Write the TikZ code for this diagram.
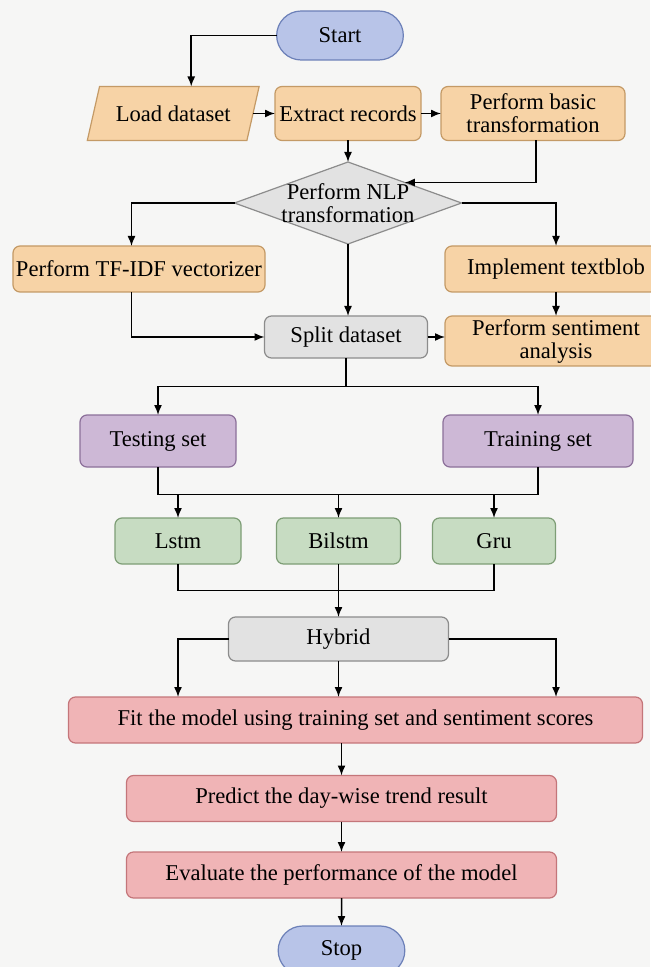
\documentclass[tikz,border=0pt]{standalone}
\usepackage{fontspec}
\setmainfont{Liberation Serif}
\usepackage{tikz}
\usetikzlibrary{arrows.meta,positioning,shapes.geometric,shapes.misc}
\definecolor{termfill}{RGB}{184,196,232}
\definecolor{termline}{RGB}{108,128,184}
\definecolor{prepfill}{RGB}{247,211,166}
\definecolor{prepline}{RGB}{196,154,102}
\definecolor{greyfill}{RGB}{226,226,226}
\definecolor{greyline}{RGB}{140,140,140}
\definecolor{setfill}{RGB}{205,184,214}
\definecolor{setline}{RGB}{140,112,154}
\definecolor{modelfill}{RGB}{199,220,194}
\definecolor{modelline}{RGB}{126,158,118}
\definecolor{evalfill}{RGB}{240,180,182}
\definecolor{evalline}{RGB}{196,118,122}
\definecolor{pagebg}{RGB}{246,246,245}
\tikzstyle{terminal}=[rounded rectangle,draw=termline,fill=termfill,line width=0.6pt,outer sep=0pt,
                     minimum width=70pt,minimum height=24.5pt]
\tikzstyle{iobox}=[trapezium,trapezium left angle=70,trapezium right angle=110,trapezium stretches=true,
                   draw=prepline,fill=prepfill,line width=0.6pt,outer sep=0pt,minimum width=86.5pt,minimum height=27pt]
\tikzstyle{decision}=[diamond,draw=greyline,fill=greyfill,line width=0.6pt,inner sep=0pt,outer sep=0pt,
                      minimum width=113.5pt,minimum height=41pt]
\tikzstyle{stepbox}=[rectangle,rounded corners=3.5pt,line width=0.6pt,align=center,outer sep=0pt,
                     inner xsep=1.5pt,inner ysep=1.5pt]
\tikzstyle{prep}=[stepbox,draw=prepline,fill=prepfill]
\tikzstyle{greybox}=[stepbox,draw=greyline,fill=greyfill]
\tikzstyle{setbox}=[stepbox,draw=setline,fill=setfill,minimum height=26pt]
\tikzstyle{modelbox}=[stepbox,draw=modelline,fill=modelfill,minimum height=23pt]
\tikzstyle{evalbox}=[stepbox,draw=evalline,fill=evalfill,minimum height=23pt]
\tikzstyle{arrow}=[-{Latex[length=5pt,width=4pt]},line width=0.75pt]
\tikzstyle{link}=[line width=0.75pt]

\begin{document}
\begin{tikzpicture}[font=\fontsize{11.3}{11.5}\selectfont]
      \fill[pagebg] (0,0) rectangle (325pt,-483.5pt);
      \useasboundingbox (0,0) rectangle (325pt,-483.5pt);

      \node[terminal] (start) at (170pt,-17.75pt) {Start};
      \node[prep,below=13.25pt of start,xshift=4pt,minimum width=73pt,minimum height=27pt] (extract) {Extract records};
      \node[iobox,left=11pt of extract] (load) {Load dataset};
      \node[prep,right=10pt of extract,minimum width=92pt,minimum height=27pt] (basic) {Perform basic\\transformation};
      \node[decision,below=10.75pt of extract] (nlp) {};
      \node[align=center] (nlptext) at (nlp) {Perform NLP\\transformation};
      \node[prep,below=1pt of nlp,xshift=-104.5pt,minimum width=125pt,minimum height=23pt] (tfidf) {Perform TF-IDF vectorizer};
      \node[prep,below=1pt of nlp,xshift=104pt,minimum width=111pt,minimum height=23pt] (textblob) {Implement textblob};
      \node[greybox,below=36pt of nlp,xshift=-1pt,minimum width=81.5pt,minimum height=21pt] (split) {Split dataset};
      \node[prep,below=12pt of textblob,minimum width=111pt,minimum height=25pt] (sentiment) {Perform sentiment\\analysis};
      \node[setbox,below=28.5pt of split,xshift=-94pt,minimum width=78pt] (testing) {Testing set};
      \node[setbox,right=103.5pt of testing,minimum width=95pt] (training) {Training set};
      \node[modelbox,below=25.5pt of testing,xshift=10pt,minimum width=63pt] (lstm) {Lstm};
      \node[modelbox,right=17.75pt of lstm,minimum width=62pt] (bilstm) {Bilstm};
      \node[modelbox,right=16pt of bilstm,minimum width=61.5pt] (gru) {Gru};
      \node[greybox,below=26.5pt of bilstm,minimum width=110pt,minimum height=22pt] (hybrid) {Hybrid};
      \node[evalbox,below=18pt of hybrid,xshift=8.5pt,minimum width=287pt] (fit) {Fit the model using training set and sentiment scores};
      \node[evalbox,below=16.25pt of fit,xshift=-7pt,minimum width=215pt] (predict) {Predict the day-wise trend result};
      \node[evalbox,below=15.25pt of predict,minimum width=215pt] (evaluate) {Evaluate the performance of the model};
      \node[terminal,below=14pt of evaluate] (stop) {Stop};

      \coordinate[below=14.35pt of split] (splitbus);
      \coordinate[below=13.65pt of testing] (setsbus);
      \coordinate[below=13.35pt of lstm] (modelbus);

      \draw[arrow] (start.west) -| ([xshift=9pt]load.north);
      \draw[arrow] (load)--(extract);
      \draw[arrow] (extract)--(basic);
      \draw[arrow] (extract)--(nlp);
      \draw[arrow] ([xshift=1.5pt]basic.south) |- (nlp.north east);
      \draw[arrow] (nlp.west) -| ([xshift=-3.75pt]tfidf.north);
      \draw[arrow] (nlp.east) -| (textblob.north);
      \draw[arrow] (nlp.south)--(nlp.south |- split.north);
      \draw[arrow] ([xshift=-3.75pt]tfidf.south) |- (split.west);
      \draw[arrow] (textblob)--(sentiment);
      \draw[arrow] (split.east)--(split.east -| sentiment.west);

      \draw[link] (split)--(splitbus);
      \draw[arrow] (splitbus) -| (testing);
      \draw[arrow] (splitbus) -| (training);

      \draw[link] (testing.south)--(setsbus) -| (training.south);
      \draw[arrow] (setsbus -| lstm.north)--(lstm.north);
      \draw[arrow] (setsbus -| bilstm.north)--(bilstm.north);
      \draw[arrow] (setsbus -| gru.north)--(gru.north);

      \draw[link] (lstm.south)--(modelbus) -| (gru.south);
      \draw[link] (bilstm.south)--(bilstm.south |- modelbus);
      \draw[arrow] (hybrid.north |- modelbus)--(hybrid.north);

      \draw[arrow] (hybrid.west) -| ([xshift=-88.75pt]fit.north);
      \draw[arrow] (hybrid)--(hybrid |- fit.north);
      \draw[arrow] (hybrid.east) -| ([xshift=100.25pt]fit.north);
      \draw[arrow] (predict.north |- fit.south)--(predict.north);
      \draw[arrow] (predict)--(evaluate);
      \draw[arrow] (evaluate)--(stop);
    \end{tikzpicture}
\end{document}
